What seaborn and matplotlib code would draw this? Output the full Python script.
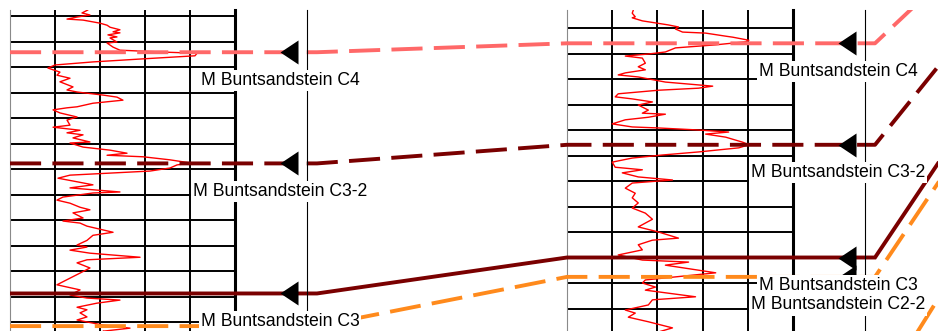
import numpy as np
import matplotlib
matplotlib.use("Agg")
import matplotlib.pyplot as plt
from matplotlib import transforms
import seaborn as sns

sns.set_theme(style="white")
plt.rcParams["font.family"] = ["Liberation Sans", "DejaVu Sans"]

# ---- Gamma-ray log, well A (API vs measured depth in m) ----
gr_a = [52, 48, 53.3, 44.7, 38, 48.7, 60, 64.7, 66.7, 73.3,
        68.7, 73.3, 65.3, 71.3, 66.7, 71.3, 64.7, 68.7, 73.3, 104.7,
        124.7, 123.3, 88.7, 55.3, 30, 25.3, 33.3, 31.3, 40, 33.3,
        42, 38, 44.7, 62, 71.3, 75.3, 55.3, 44.7, 38, 28.7,
        33.3, 44.7, 38, 40, 28.7, 46.7, 38, 48.7, 42, 53.3,
        40, 48.7, 66.7, 78, 64.7, 88.7, 106.7, 120, 111.3, 106.7,
        93.3, 66.7, 40, 32, 44.7, 55.3, 40, 73.3, 55.3, 35.3,
        31.3, 40, 46.7, 53.3, 42, 48.7, 35.3, 46.7, 51.3, 68.7,
        55.3, 51.3, 44.7, 51.3, 40, 53.3, 86.7, 51.3, 44.7, 53.3,
        46.7, 40, 31.3, 46.7, 40, 51.3, 73.3, 58, 44.7, 51.3,
        46.7, 51.3, 44.7, 62, 80, 62, 66.7]
depth_a = [1498.8, 1499.4, 1499.8, 1500.2, 1500.6, 1500.8, 1501.4, 1501.8, 1502.2, 1502.7,
           1503.1, 1503.3, 1503.7, 1504.1, 1504.3, 1505.1, 1505.3, 1506.1, 1506.7, 1507.1,
           1507.3, 1507.8, 1508.4, 1509.0, 1509.6, 1510.2, 1511.0, 1511.6, 1512.2, 1512.9,
           1513.9, 1514.5, 1514.9, 1515.5, 1515.9, 1516.5, 1517.1, 1517.8, 1518.0, 1518.4,
           1519.0, 1519.8, 1520.4, 1521.4, 1521.8, 1522.4, 1522.9, 1523.3, 1523.9, 1524.7,
           1524.9, 1525.7, 1526.3, 1526.9, 1527.3, 1527.6, 1528.2, 1528.8, 1529.2, 1529.8,
           1530.4, 1530.8, 1531.2, 1531.8, 1532.5, 1533.1, 1533.7, 1534.5, 1534.7, 1535.5,
           1536.1, 1536.7, 1537.5, 1538.0, 1538.6, 1539.6, 1540.2, 1540.6, 1541.2, 1542.4,
           1543.0, 1544.0, 1544.9, 1545.3, 1545.9, 1546.5, 1547.3, 1547.8, 1548.4, 1549.4,
           1550.4, 1551.4, 1552.7, 1553.7, 1554.7, 1555.3, 1555.7, 1556.3, 1557.1, 1557.6,
           1558.2, 1559.0, 1559.6, 1560.6, 1561.2, 1561.8, 1562.5]

# ---- Gamma-ray log, well B ----
gr_b = [44, 43.3, 45.3, 43.3, 50, 58.7, 67.3, 74, 72, 76.7,
        92, 105.3, 110, 120.7, 118.7, 98.7, 72, 65.3, 54, 38.7,
        50, 52, 47.3, 52, 38.7, 34, 47.3, 65.3, 96.7, 87.3,
        60.7, 34, 32, 43.3, 56.7, 47.3, 54, 50, 65.3, 54,
        38.7, 30, 43.3, 60.7, 87.3, 107.3, 92, 105.3, 116.7, 120.7,
        114, 87.3, 63.3, 43.3, 30, 32, 50, 36.7, 47.3, 70,
        43.3, 38.7, 45.3, 43.3, 47.3, 43.3, 52, 56.7, 47.3, 60.7,
        74, 56.7, 47.3, 50, 34, 50, 80.7, 65.3, 78.7, 98.7,
        72, 52, 50, 58.7, 52, 85.3, 56.7, 54, 38.7, 45.3,
        40.7, 54, 70, 60.7]
depth_b = [1466.5, 1467.1, 1467.8, 1468.0, 1468.6, 1469.0, 1469.4, 1469.8, 1470.2, 1470.8,
           1471.0, 1471.6, 1471.8, 1472.4, 1472.7, 1473.3, 1473.9, 1474.7, 1475.1, 1475.5,
           1475.9, 1476.9, 1477.6, 1478.2, 1478.8, 1479.2, 1479.6, 1480.6, 1481.4, 1481.8,
           1482.2, 1482.9, 1483.5, 1483.9, 1484.5, 1485.1, 1486.1, 1486.7, 1486.9, 1487.5,
           1488.0, 1488.8, 1489.4, 1489.6, 1490.0, 1490.4, 1490.8, 1491.4, 1492.4, 1492.9,
           1493.5, 1494.3, 1494.9, 1495.5, 1496.3, 1497.3, 1497.8, 1498.4, 1499.2, 1499.8,
           1500.4, 1501.4, 1502.4, 1503.3, 1504.3, 1505.3, 1506.3, 1507.5, 1509.0, 1510.0,
           1511.2, 1511.6, 1512.5, 1513.5, 1514.5, 1515.5, 1515.9, 1516.5, 1517.1, 1518.0,
           1518.8, 1519.4, 1520.0, 1520.8, 1521.4, 1522.7, 1523.3, 1524.3, 1525.3, 1525.9,
           1526.7, 1527.6, 1528.8, 1529.6]

# ---- Correlated formation tops (m) ----
horizons = ["M Buntsandstein C4", "M Buntsandstein C3-2", "M Buntsandstein C3",
            "M Buntsandstein C2-2", "M Buntsandstein C2"]
horizon_colors = ["#ff6868", "#7a0000", "#7a0000", "#ff8a1c", "#ff8a1c"]
horizon_dashed = [True, True, False, True, True]
tops_a = [1507.1, 1528.9, 1554.4, 1560.8, 1580.0]
tops_b = [1473.0, 1492.9, 1515.0, 1518.8, 1542.9]
tops_c = [1419.9, 1432.5, 1448.4, 1452.3, 1473.7]

# depth windows shown for each well (top, base)
window_a = (1498.82, 1561.76)
window_b = (1466.47, 1529.41)
window_c = (1436.47, 1499.41)
grid_a = np.arange(1500, 1561, 5)
grid_b = np.arange(1470, 1526, 5)
gr_ticks = [30, 60, 90, 120]
gr_range = (0, 150)

W, H = 938, 331
fig = plt.figure(figsize=(W / 100, H / 100), dpi=100)
fig.patch.set_facecolor("white")
panel_h = 321 / H


def add_track(x0, x1, window, grid, gr, depth):
    ax = fig.add_axes([x0 / W, 0, (x1 - x0) / W, panel_h], zorder=1)
    if gr is not None:
        sns.lineplot(x=gr, y=depth, sort=False, estimator=None, color="#ff0000",
                     lw=1.0, ax=ax, legend=False)
    ax.set_xlim(*gr_range)
    ax.set_ylim(window[1], window[0])
    ax.set_xticks(gr_ticks)
    ax.set_yticks(grid)
    ax.tick_params(length=0, labelbottom=False, labelleft=False)
    ax.grid(True, color="black", lw=1.4)
    ax.set_xlabel("")
    ax.set_ylabel("")
    for s in ("top", "bottom"):
        ax.spines[s].set_visible(False)
    ax.spines["left"].set_color("#8a8a8a")
    ax.spines["left"].set_linewidth(0.8)
    ax.spines["right"].set_color("black")
    ax.spines["right"].set_linewidth(2.2)
    return ax


def add_marks(x0, x1, track):
    ax = fig.add_axes([x0 / W, 0, (x1 - x0) / W, panel_h], zorder=3, sharey=track)
    ax.set_facecolor("none")
    ax.set_xlim(0, 1)
    for s in ("top", "bottom", "left"):
        ax.spines[s].set_visible(False)
    ax.spines["right"].set_color("black")
    ax.spines["right"].set_linewidth(0.8)
    ax.tick_params(left=False, bottom=False, labelleft=False, labelbottom=False)
    ax.grid(False)
    return ax


track_a = add_track(10, 235, window_a, grid_a, gr_a, depth_a)
marks_a = add_marks(235, 307, track_a)
track_b = add_track(567, 793, window_b, grid_b, gr_b, depth_b)
marks_b = add_marks(793, 865, track_b)
# next well along the section, beyond the right edge
track_c = fig.add_axes([1000 / W, 0, 225 / W, panel_h])
track_c.set_ylim(window_c[1], window_c[0])
track_c.set_axis_off()

wells = [(track_a, marks_a, tops_a), (track_b, marks_b, tops_b), (track_c, None, tops_c)]

# top markers and names (a name is written only if its centre lies inside the panel)
tri = [(-0.75, 0), (0.75, -1), (0.75, 1), (-0.75, 0)]
label_drop_pt = 20.2
for track, marks, tops in wells[:2]:
    marks.plot([0.75] * len(tops), tops, ls="none", marker=tri, ms=17.3,
               color="black", mew=0, zorder=4)
    blend = transforms.blended_transform_factory(marks.transAxes, marks.transData)
    panel_bottom = marks.transAxes.transform((0, 0))[1]
    for name, d in zip(horizons, tops):
        y_disp = marks.transData.transform((0, d))[1] - label_drop_pt * fig.dpi / 72
        if y_disp < panel_bottom:
            continue
        marks.annotate(name, xy=(0.625, d), xycoords=blend, xytext=(0, -label_drop_pt),
                       textcoords="offset points", ha="center", va="center",
                       fontsize=12.7, color="black", zorder=6, annotation_clip=False,
                       bbox=dict(boxstyle="square,pad=0.12", fc="white", ec="none"))

# correlation lines, drawn across the whole section
overlay = fig.add_axes([0, 0, 1, panel_h], zorder=2)
overlay.set_facecolor("none")
overlay.set_xlim(0, 1)
overlay.set_ylim(0, 1)
overlay.set_axis_off()
to_overlay = overlay.transData.inverted()
bend_px = 10 * fig.dpi / 100

for k, name in enumerate(horizons):
    pts = []
    for i, (track, marks, tops) in enumerate(wells):
        y = track.transData.transform((0, tops[k]))[1]
        x0 = track.transAxes.transform((0, 0))[0]
        pts.append((x0, y))
        if marks is not None:
            x1 = marks.transAxes.transform((1, 0))[0] + bend_px
            pts.append((x1, y))
    pts = to_overlay.transform(np.array(pts))
    ls = (0, (8.0, 2.9)) if horizon_dashed[k] else "-"
    overlay.plot(pts[:, 0], pts[:, 1], color=horizon_colors[k], lw=2.8, ls=ls,
                 solid_capstyle="butt", dash_capstyle="butt", solid_joinstyle="miter")

fig.savefig("out.png", dpi=100, facecolor="white")
